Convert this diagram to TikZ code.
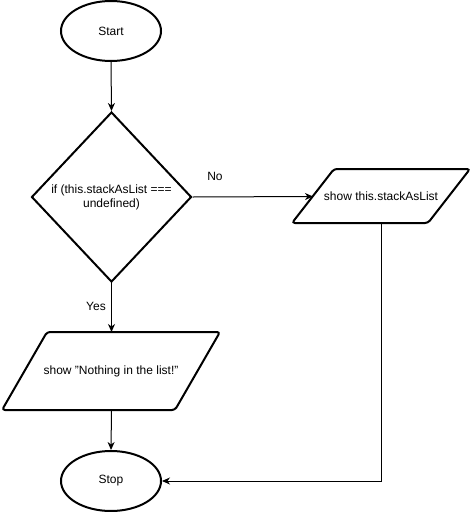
\documentclass[tikz,border=0pt]{standalone}
\usepackage{fontspec}
\setmainfont{Liberation Sans}
\usetikzlibrary{shapes.geometric,arrows.meta}
\begin{document}
\begin{tikzpicture}[x=1pt,y=-1pt,
  font=\fontsize{12}{14}\selectfont,
  term/.style={ellipse,draw,line width=2pt,minimum width=100pt,minimum height=60pt,inner sep=0pt},
  decbox/.style={diamond,draw,line width=2pt,minimum width=160pt,minimum height=170pt,inner sep=0pt,align=center},
  txt/.style={inner sep=0pt,align=center},
  para/.style={draw,line width=2pt,rounded corners=3pt},
  conn/.style={draw,line width=1pt,-{Stealth[length=8pt,width=7pt,inset=2.5pt]}},
  lbl/.style={inner sep=0pt}]
\useasboundingbox (0,0) rectangle (472,512);
\node[term] (start) at (111,31) {Start};
\node[decbox] (dec) at (111.5,197) {if (this.stackAsList ===\\undefined)};
\draw[para] (292,223) -- (334,169) -- (470,169) -- (428,223) -- cycle;
\node[txt] (out1) at (381,196) {show this.stackAsList};
\coordinate (out1w) at (313,196.5);
\coordinate (out1s) at (381,223);
\draw[para] (2,410) -- (47,332) -- (220,332) -- (175,410) -- cycle;
\node[txt] (out2) at (111,371) {show "Nothing in the list!"};
\coordinate (out2n) at (111.5,332);
\coordinate (out2s) at (111.5,410);
\node[term] (stop) at (111,481) {Stop};
\draw[conn] (start.south) -- (dec.north);
\draw[conn] (dec.east) -- (out1w);
\node[lbl] (no) at (215,176) {No};
\draw[conn] (dec.south) -- (out2n);
\node[lbl] (yes) at (96,306) {Yes};
\draw[conn] (out2s) -- (stop.north);
\draw[conn] (out1s) |- (stop.east);
\end{tikzpicture}
\end{document}
